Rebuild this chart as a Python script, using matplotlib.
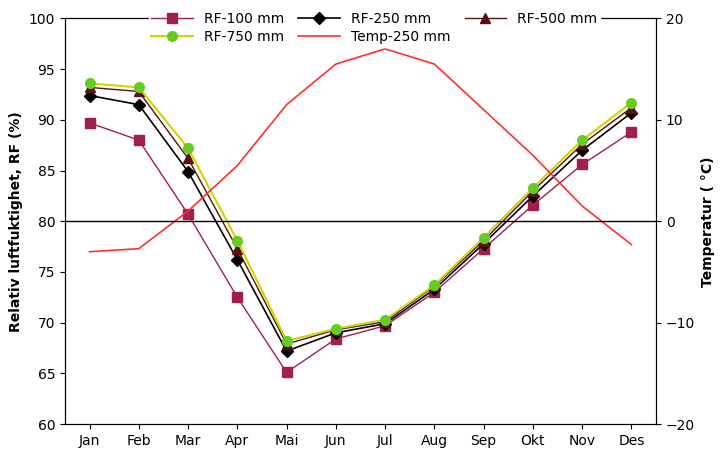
import numpy as np
import matplotlib.pyplot as plt

months = ["Jan", "Feb", "Mar", "Apr", "Mai", "Jun", "Jul", "Aug", "Sep", "Okt", "Nov", "Des"]
rf100 = [89.7, 88.0, 80.7, 72.5, 65.1, 68.4, 69.7, 73.0, 77.3, 81.6, 85.6, 88.8]
rf250 = [92.4, 91.5, 84.9, 76.2, 67.2, 69.0, 69.9, 73.3, 77.8, 82.5, 87.0, 90.7]
rf500 = [93.2, 92.8, 86.2, 77.3, 67.9, 69.3, 70.1, 73.6, 78.1, 83.0, 87.6, 91.2]
rf750 = [93.6, 93.2, 87.2, 78.1, 68.2, 69.4, 70.3, 73.7, 78.4, 83.3, 88.0, 91.7]
temp = [-3.0, -2.7, 1.0, 5.5, 11.5, 15.5, 17.0, 15.5, 11.0, 6.5, 1.5, -2.3]

x = np.arange(len(months))
fig, ax = plt.subplots(figsize=(7.21, 4.61), dpi=100)
ax2 = ax.twinx()

h1, = ax.plot(x, rf100, color='#a0204a', marker='s', ms=7, lw=1, label="RF-100 mm")
h2, = ax.plot(x, rf250, color='black', marker='D', ms=6, lw=1.2, label="RF-250 mm")
h3, = ax.plot(x, rf500, color='#5a1010', marker='^', ms=7, lw=1, label="RF-500 mm")
h4, = ax.plot(x, rf750, color='#c8d800', marker='o', ms=7, mfc='#66cc22', mec='#66cc22', lw=1.5, label="RF-750 mm")
h5, = ax2.plot(x, temp, color='#ff3030', lw=1.2, label="Temp-250 mm")
ax2.axhline(0, color='black', lw=1)

ax.set_ylim(60, 100)
ax.set_yticks(range(60, 101, 5))
ax2.set_ylim(-20, 20)
ax2.set_yticks(range(-20, 21, 10))
ax.set_xlim(-0.5, 11.5)
ax.set_xticks(x)
ax.set_xticklabels(months)
ax.set_ylabel("Relativ luftfuktighet, RF (%)", fontweight='bold')
ax2.set_ylabel("Temperatur ( °C)", fontweight='bold')
for a in (ax, ax2):
    a.tick_params(labelsize=10)

# matplotlib fills legend column by column, so reorder to read row-wise
leg = ax2.legend(handles=[h1, h4, h2, h5, h3], ncol=3, loc='upper left',
                 bbox_to_anchor=(0.13, 1.04), fontsize=10, frameon=True,
                 edgecolor='white', framealpha=1, handlelength=3,
                 columnspacing=1.0, borderpad=0.2, labelspacing=0.3)

plt.subplots_adjust(left=0.09, right=0.91, top=0.96, bottom=0.08)
plt.savefig('out.png')
